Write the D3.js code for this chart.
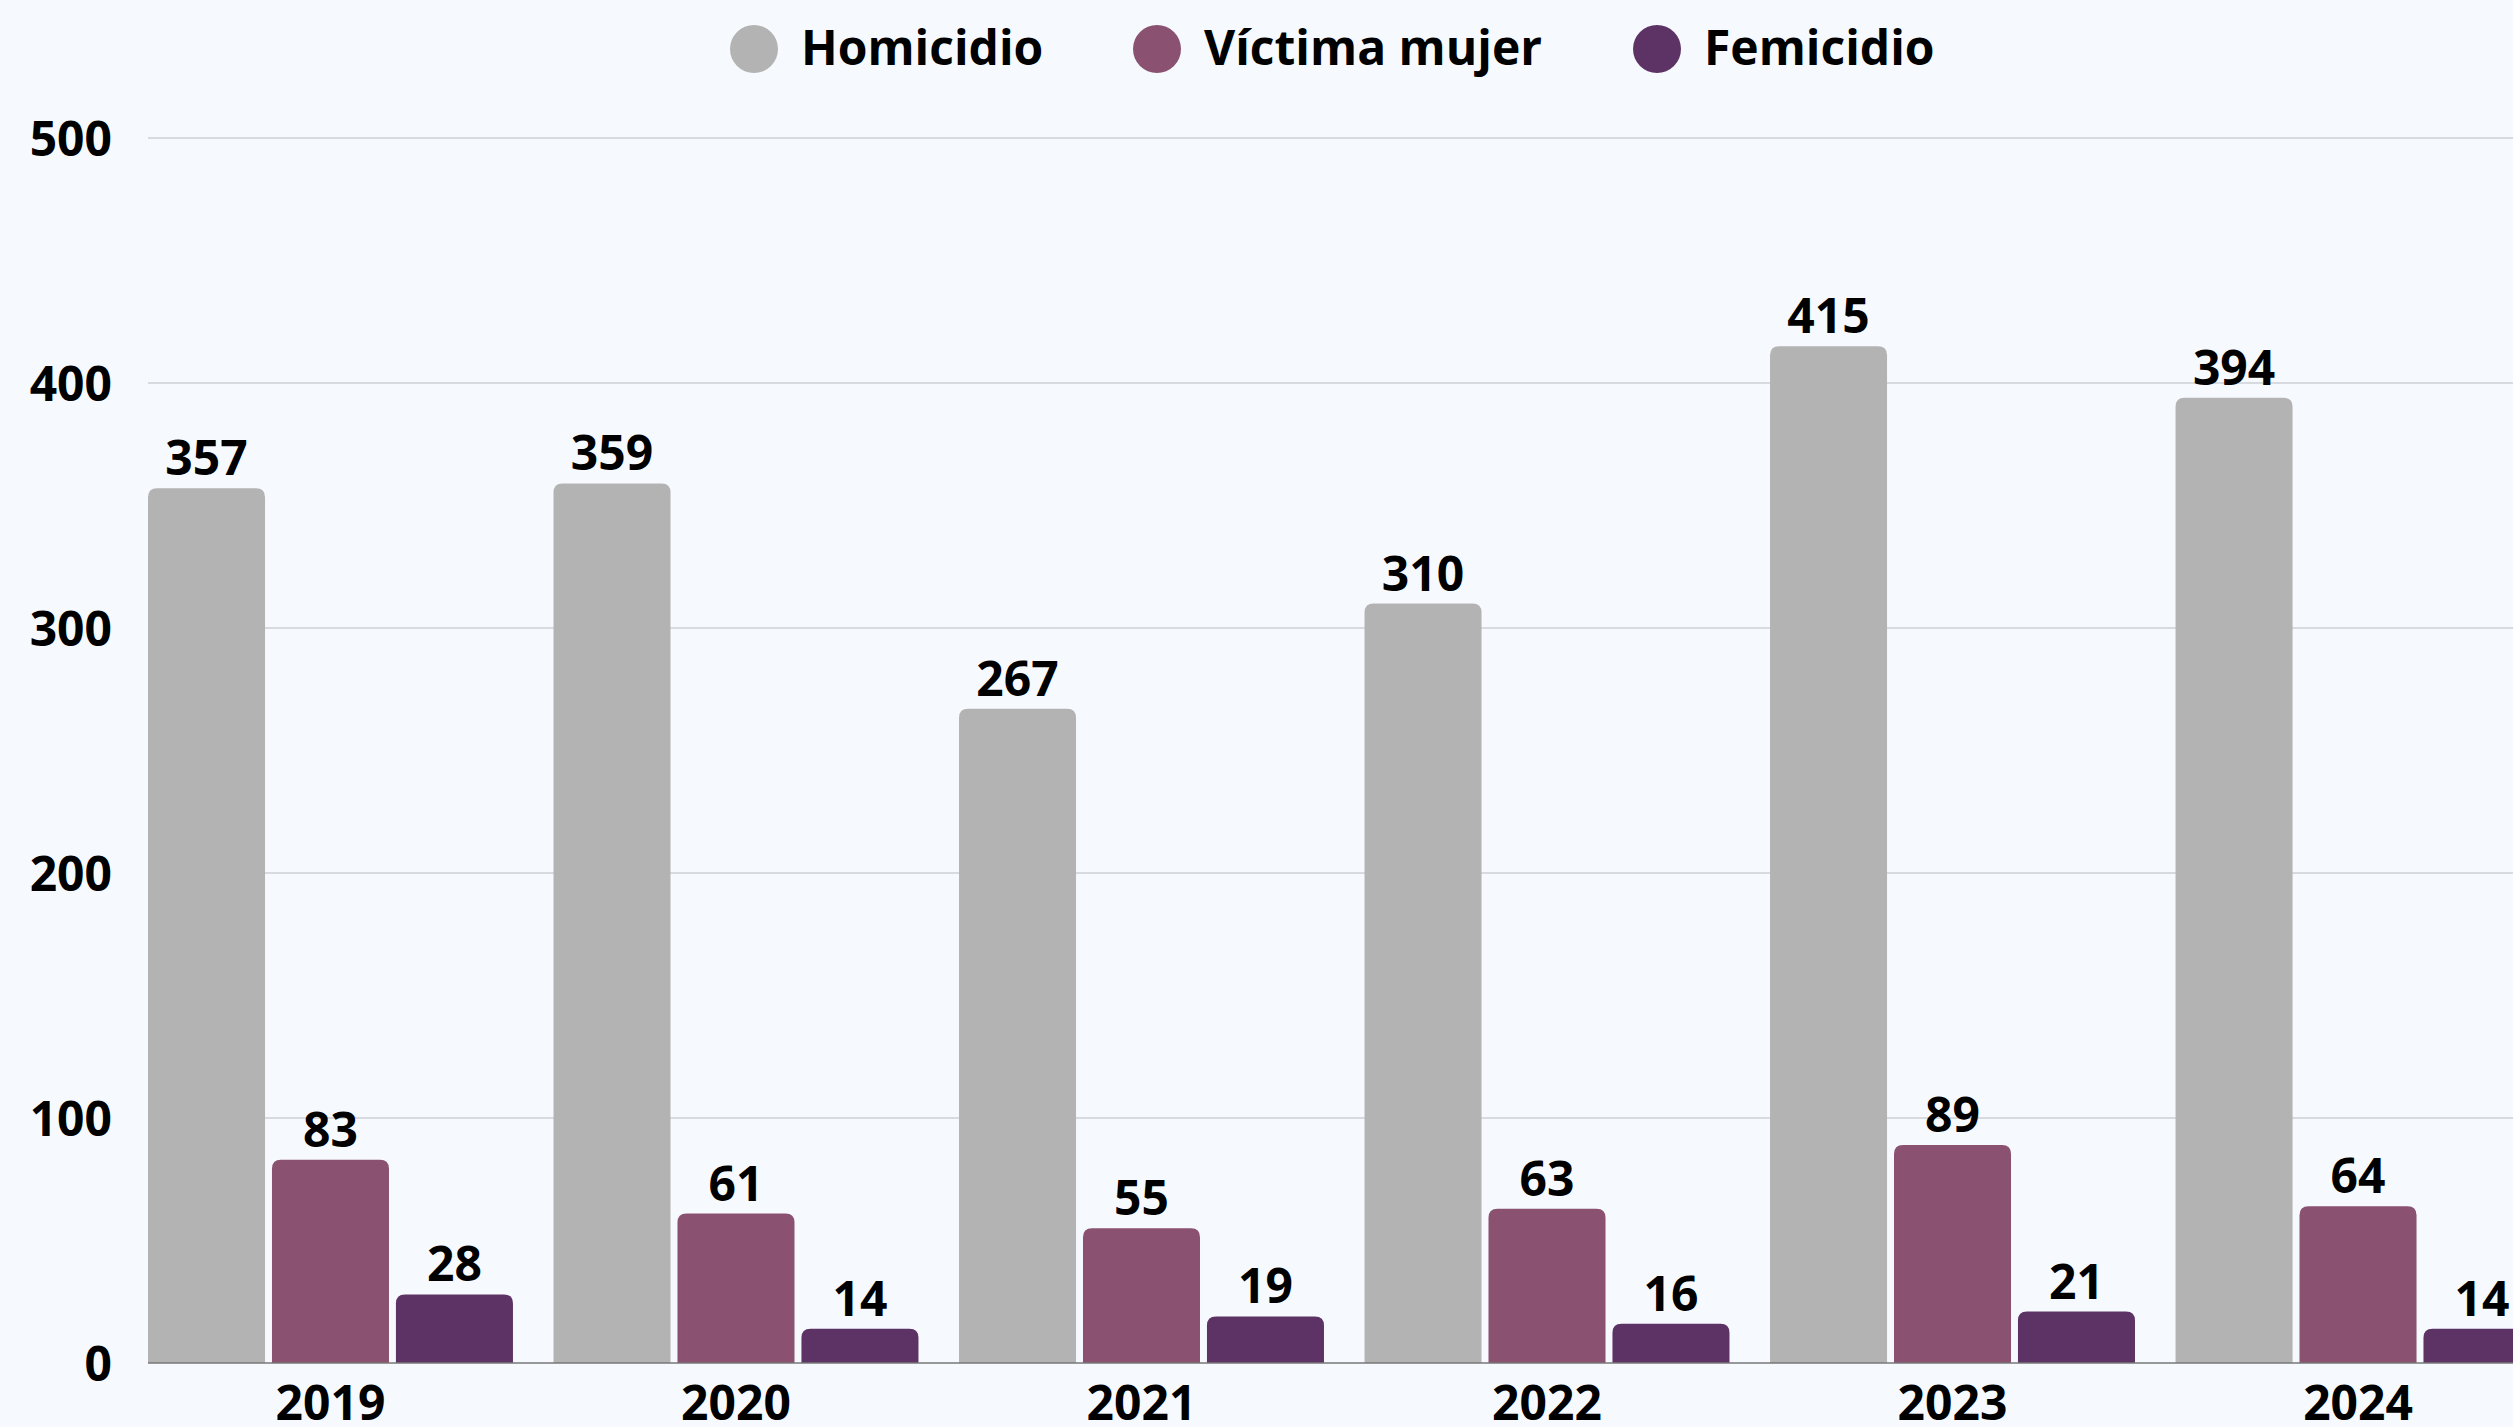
<!DOCTYPE html>
<html>
<head>
<meta charset="utf-8">
<script src="https://cdn.jsdelivr.net/npm/d3@7"></script>
<style>
  html, body { margin: 0; padding: 0; background: #f6faff; overflow: hidden; }
  svg { display: block; }
  text { font-family: "Open Sans", "Noto Sans", sans-serif; font-weight: 700; fill: #000; }
</style>
</head>
<body>
<svg id="chart" width="2513" height="1427"></svg>
<script>
const years = ["2019", "2020", "2021", "2022", "2023", "2024"];
const seriesNames = ["Homicidio", "Víctima mujer", "Femicidio"];
const homicidio = [357, 359, 267, 310, 415, 394];
const victimaMujer = [83, 61, 55, 63, 89, 64];
const femicidio = [28, 14, 19, 16, 21, 14];
const seriesColors = ["#b3b3b3", "#8a5270", "#5c3364"];
const yTicks = [0, 100, 200, 300, 400, 500];

const seriesValues = [homicidio, victimaMujer, femicidio];
const W = 2513, H = 1427;
const svg = d3.select("#chart");
svg.append("rect").attr("width", W).attr("height", H).attr("fill", "#f6faff");

const plotLeft = 148, plotRight = 2540.5;
const y = d3.scaleLinear().domain([0, 500]).range([1363, 138]);
const x0 = d3.scaleBand().domain(years).range([plotLeft, plotRight]).paddingInner(0.1).paddingOuter(0);
const x1 = d3.scaleBand().domain(seriesNames).range([0, x0.bandwidth()]).paddingInner(0.056).paddingOuter(0);
const color = d3.scaleOrdinal().domain(seriesNames).range(seriesColors);

// gridlines
svg.append("g").selectAll("line").data(yTicks.filter(d => d > 0)).join("line")
  .attr("x1", plotLeft).attr("x2", W)
  .attr("y1", d => y(d)).attr("y2", d => y(d))
  .attr("stroke", "#cdd0d4").attr("stroke-width", 1.5);

// y axis labels
const yAxis = d3.axisLeft(y).tickValues(yTicks).tickSize(0).tickPadding(0);
const gy = svg.append("g").attr("transform", "translate(112,0)").call(yAxis);
gy.select(".domain").remove();
gy.selectAll("text").attr("font-size", 48).attr("font-family", "'Open Sans', sans-serif")
  .attr("font-weight", 700).attr("fill", "#000").attr("dy", "0.36em");

// bars
const data = [];
years.forEach((yr, i) => seriesNames.forEach((s, j) => data.push({ year: yr, series: s, value: seriesValues[j][i] })));

function topRounded(x, yTop, w, yBot, r) {
  r = Math.min(r, w / 2, yBot - yTop);
  return `M${x},${yBot}V${yTop + r}Q${x},${yTop} ${x + r},${yTop}H${x + w - r}Q${x + w},${yTop} ${x + w},${yTop + r}V${yBot}Z`;
}

const groups = svg.append("g").selectAll("g").data(data).join("g");
groups.append("path")
  .attr("d", d => topRounded(x0(d.year) + x1(d.series), y(d.value), x1.bandwidth(), y(0), 9))
  .attr("fill", d => color(d.series));
groups.append("text")
  .attr("x", d => x0(d.year) + x1(d.series) + x1.bandwidth() / 2)
  .attr("y", d => y(d.value) - 13)
  .attr("text-anchor", "middle")
  .attr("font-size", 48)
  .text(d => d.value);

// baseline
svg.append("line").attr("x1", plotLeft).attr("x2", W).attr("y1", y(0)).attr("y2", y(0))
  .attr("stroke", "#777").attr("stroke-width", 1.5);

// x axis labels
const xAxis = d3.axisBottom(x0).tickSize(0).tickPadding(0);
const gx = svg.append("g").attr("transform", `translate(0,${y(0)})`).call(xAxis);
gx.select(".domain").remove();
gx.selectAll("text").attr("font-size", 48).attr("font-family", "'Open Sans', sans-serif")
  .attr("font-weight", 700).attr("fill", "#000").attr("dy", null).attr("y", 57);

// legend
const legendX = [754, 1157, 1657];
const legend = svg.append("g").selectAll("g").data(seriesNames).join("g")
  .attr("transform", (d, i) => `translate(${legendX[i]},49)`);
legend.append("circle").attr("r", 24).attr("fill", d => color(d));
legend.append("text").attr("x", 47).attr("dy", "0.34em").attr("font-size", 48).text(d => d);
</script>
</body>
</html>
